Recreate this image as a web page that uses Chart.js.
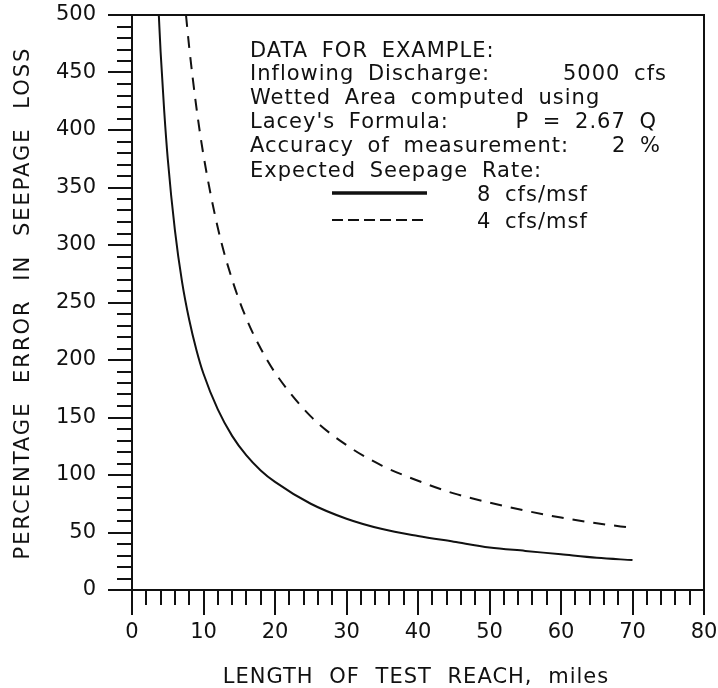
<!DOCTYPE html>
<html>
<head>
<meta charset="utf-8">
<script src="https://cdn.jsdelivr.net/npm/chart.js@4.4.1/dist/chart.umd.min.js"></script>
<style>
  html, body { margin: 0; padding: 0; background: #fff; }
  #wrap { width: 718px; height: 688px; }
</style>
</head>
<body>
<div id="wrap"><canvas id="seepage_chart" width="718" height="688"></canvas></div>
<script>
// length of test reach (miles) vs percentage error, seepage rate 8 cfs/msf
const reach8 = [3.75, 4, 4.5, 5, 6, 7, 8, 9, 10, 12, 14, 16, 18, 20, 25, 30, 35, 40, 45, 50, 55, 60, 65, 70];
const error8 = [500, 468, 417, 375, 313, 268, 235, 209, 188, 157, 134, 117, 104, 94, 75, 62, 53, 47, 42, 37, 34, 31, 28, 26];

// same, seepage rate 4 cfs/msf
const reach4 = [7.55, 8, 9, 10, 12, 14, 16, 18, 20, 25, 30, 35, 40, 45, 50, 55, 60, 65, 70];
const error4 = [500, 472, 420, 378, 315, 270, 236, 210, 189, 151, 126, 108, 95, 84, 76, 69, 63, 58, 54];

const xTickValues = [0, 10, 20, 30, 40, 50, 60, 70, 80];
const yTickValues = [0, 50, 100, 150, 200, 250, 300, 350, 400, 450, 500];

const ink = "#111";
const font = "DejaVu Sans";

// text block in the upper right of the plot
const infoLines = [
  { left: "DATA FOR EXAMPLE:", y: 57 },
  { left: "Inflowing Discharge:", right: "5000 cfs", rx: 667, y: 80 },
  { left: "Wetted Area computed using", y: 104 },
  { left: "Lacey's Formula:", right: "P = 2.67 Q", rx: 657, y: 128 },
  { left: "Accuracy of measurement:", right: "2 %", rx: 661, y: 152 },
  { left: "Expected Seepage Rate:", y: 177 },
];
const legendRows = [
  { label: "8 cfs/msf", dash: [], width: 3.5, y: 193 },
  { label: "4 cfs/msf", dash: [11, 5], width: 2, y: 220 },
];

function toPoints(xs, ys) {
  return xs.map((x, i) => ({ x: x, y: ys[i] }));
}

// frame, outside tick marks, axis titles and the text block
const decorations = {
  id: "decorations",
  afterDraw(chart) {
    const { ctx, chartArea: a, scales: { x, y } } = chart;
    ctx.save();
    ctx.strokeStyle = ink;
    ctx.fillStyle = ink;
    ctx.lineWidth = 2;
    ctx.strokeRect(a.left, a.top, a.right - a.left, a.bottom - a.top);

    ctx.beginPath();
    for (let v = x.min; v <= x.max; v += 2) {
      const px = Math.round(x.getPixelForValue(v));
      ctx.moveTo(px, a.bottom);
      ctx.lineTo(px, a.bottom + (v % 10 === 0 ? 25 : 15));
    }
    for (let v = y.min; v <= y.max; v += 10) {
      const py = Math.round(y.getPixelForValue(v));
      ctx.moveTo(a.left, py);
      ctx.lineTo(a.left - (v % 50 === 0 ? 24 : 15), py);
    }
    ctx.stroke();

    // axis titles
    ctx.font = "21px '" + font + "'";
    ctx.letterSpacing = "1px";
    ctx.wordSpacing = "8px";
    ctx.textAlign = "center";
    ctx.textBaseline = "alphabetic";
    ctx.fillText("LENGTH OF TEST REACH, miles", 416, 683);
    ctx.save();
    ctx.translate(29, 303);
    ctx.rotate(-Math.PI / 2);
    ctx.letterSpacing = "2px";
    ctx.wordSpacing = "10px";
    ctx.fillText("PERCENTAGE ERROR IN SEEPAGE LOSS", 0, 0);
    ctx.restore();

    // data notes
    ctx.font = "21px '" + font + "'";
    ctx.letterSpacing = "1px";
    ctx.wordSpacing = "6px";
    infoLines.forEach(line => {
      ctx.textAlign = "left";
      ctx.fillText(line.left, 250, line.y);
      if (line.right) {
        ctx.textAlign = "right";
        ctx.fillText(line.right, line.rx, line.y);
      }
    });
    legendRows.forEach(row => {
      ctx.beginPath();
      ctx.lineWidth = row.width;
      ctx.setLineDash(row.dash);
      ctx.moveTo(332, row.y);
      ctx.lineTo(427, row.y);
      ctx.stroke();
      ctx.setLineDash([]);
      ctx.textAlign = "left";
      ctx.fillText(row.label, 477, row.y + 8);
    });
    ctx.restore();
  }
};

const ctx = document.getElementById("seepage_chart");

new Chart(ctx, {
  type: "line",
  data: {
    datasets: [
      {
        label: "8 cfs/msf",
        data: toPoints(reach8, error8),
        borderColor: ink,
        borderWidth: 2,
        pointRadius: 0,
        cubicInterpolationMode: "monotone",
      },
      {
        label: "4 cfs/msf",
        data: toPoints(reach4, error4),
        borderColor: ink,
        borderWidth: 2,
        borderDash: [12, 9],
        pointRadius: 0,
        cubicInterpolationMode: "monotone",
      },
    ],
  },
  options: {
    responsive: false,
    animation: false,
    events: [],
    layout: { padding: { top: 15, right: 14, left: 0, bottom: 0 } },
    plugins: {
      legend: { display: false },
      tooltip: { enabled: false },
    },
    scales: {
      x: {
        type: "linear",
        min: 0,
        max: 80,
        grid: { display: false, drawTicks: false },
        border: { display: false },
        afterFit: scale => {
          scale.height = 98;
          scale.paddingLeft = 0;
          scale.paddingRight = 0;
        },
        afterBuildTicks: scale => { scale.ticks = xTickValues.map(v => ({ value: v })); },
        ticks: {
          color: ink,
          padding: 30,
          maxRotation: 0,
          autoSkip: false,
          font: { family: font, size: 21 },
        },
      },
      y: {
        type: "linear",
        min: 0,
        max: 500,
        grid: { display: false, drawTicks: false },
        border: { display: false },
        afterFit: scale => {
          scale.width = 132;
          scale.paddingTop = 0;
          scale.paddingBottom = 0;
        },
        afterBuildTicks: scale => { scale.ticks = yTickValues.map(v => ({ value: v })); },
        ticks: {
          color: ink,
          padding: 36,
          autoSkip: false,
          font: { family: font, size: 21 },
        },
      },
    },
  },
  plugins: [decorations],
});
</script>
</body>
</html>
